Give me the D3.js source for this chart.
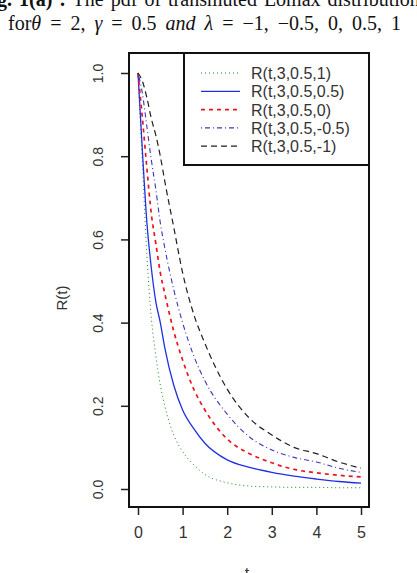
<!DOCTYPE html>
<html>
<head>
<meta charset="utf-8">
<script src="https://cdn.jsdelivr.net/npm/d3@7"></script>
<style>
  body { margin: 0; background: #fff; }
  svg { display: block; }
</style>
</head>
<body>
<div id="chart"></div>
<script>
// sample points on t
const tValues = [0, 0.1, 0.2, 0.3, 0.4, 0.5, 0.6, 0.8, 1, 1.25, 1.5, 2, 2.5, 3, 3.5, 4, 4.5, 5];

// R(t), one array per lambda
const rLambda1    = [1, 0.78, 0.56, 0.41, 0.32, 0.25, 0.20, 0.13, 0.09, 0.058, 0.035, 0.015, 0.007, 0.005, 0.004, 0.004, 0.003, 0.003];
const rLambda05   = [1, 0.81, 0.64, 0.53, 0.45, 0.40, 0.34, 0.25, 0.19, 0.145, 0.11, 0.07, 0.052, 0.04, 0.031, 0.024, 0.018, 0.014];
const rLambda0    = [1, 0.89, 0.77, 0.66, 0.59, 0.52, 0.47, 0.38, 0.31, 0.24, 0.19, 0.12, 0.085, 0.063, 0.047, 0.039, 0.033, 0.029];
const rLambdaM05  = [1, 0.95, 0.87, 0.79, 0.72, 0.64, 0.58, 0.48, 0.40, 0.32, 0.26, 0.18, 0.125, 0.094, 0.076, 0.065, 0.05, 0.04];
const rLambdaM1   = [1, 0.98, 0.94, 0.89, 0.85, 0.80, 0.74, 0.63, 0.52, 0.42, 0.35, 0.24, 0.17, 0.13, 0.10, 0.085, 0.065, 0.05];

const seriesNames = ["R(t,3,0.5,1)", "R(t,3,0.5,0.5)", "R(t,3,0.5,0)", "R(t,3,0.5,-0.5)", "R(t,3,0.5,-1)"];
const xTicks = [0, 1, 2, 3, 4, 5];
const yTicks = [0.0, 0.2, 0.4, 0.6, 0.8, 1.0];

const series = [
    {name: seriesNames[0], values: rLambda1,   color: "#1a8a1a", dash: "1,3",     width: 1},
    {name: seriesNames[1], values: rLambda05,  color: "#2030e0", dash: null,      width: 1.3},
    {name: seriesNames[2], values: rLambda0,   color: "#e8161c", dash: "4,4",     width: 1.7},
    {name: seriesNames[3], values: rLambdaM05, color: "#3838b8", dash: "1,3,5,3", width: 1.1},
    {name: seriesNames[4], values: rLambdaM1,  color: "#202020", dash: "6,4",     width: 1.2}
];

const W = 417, H = 573;
const svg = d3.select("#chart").append("svg")
    .attr("width", W)
    .attr("height", H);

const serif = "'Liberation Serif', 'DejaVu Serif', serif";

// caption lines (top one cut by the crop)
const cap0 = svg.append("text")
    .attr("x", -3).attr("y", 6)
    .style("font-family", serif)
    .style("font-size", "20px")
    .style("word-spacing", "2px")
    .attr("fill", "#111");
cap0.append("tspan").style("font-weight", "bold").text("g. 1(a) :");
cap0.append("tspan").text(" The pdf of transmuted Lomax distribution");

const cap = svg.append("text")
    .attr("x", 8).attr("y", 30)
    .style("font-family", serif)
    .style("font-size", "20px")
    .style("word-spacing", "4px")
    .attr("fill", "#111");
cap.append("tspan").text("for");
cap.append("tspan").style("font-style", "italic").text("θ");
cap.append("tspan").text(" = 2, ");
cap.append("tspan").style("font-style", "italic").text("γ");
cap.append("tspan").text(" = 0.5  ");
cap.append("tspan").style("font-style", "italic").text("and λ");
cap.append("tspan").text(" = −1, −0.5, 0, 0.5, 1");

// plot box
const box = {left: 129, right: 369, top: 53, bottom: 507};

const x = d3.scaleLinear().domain([0, 5]).range([138, 361]);
const y = d3.scaleLinear().domain([0, 1]).range([489, 73]);

const line = d3.line()
    .x((d, i) => x(tValues[i]))
    .y(d => y(d))
    .curve(d3.curveMonotoneX);

svg.append("clipPath").attr("id", "plotclip")
    .append("rect")
    .attr("x", box.left).attr("y", box.top)
    .attr("width", box.right - box.left).attr("height", box.bottom - box.top);

const plot = svg.append("g").attr("clip-path", "url(#plotclip)");

plot.selectAll("path.curve")
    .data(series)
    .enter()
    .append("path")
    .attr("class", "curve")
    .attr("d", d => line(d.values))
    .attr("fill", "none")
    .attr("stroke", d => d.color)
    .attr("stroke-width", d => d.width)
    .attr("stroke-dasharray", d => d.dash);

// axes
const sans = "'Liberation Sans', Arial, sans-serif";

const xAxis = svg.append("g")
    .attr("transform", `translate(0, ${box.bottom})`)
    .call(d3.axisBottom(x).tickValues(xTicks).tickSize(8).tickPadding(12).tickFormat(d3.format("d")));
xAxis.select(".domain").remove();
xAxis.selectAll("line").attr("stroke", "#222").attr("stroke-width", 1.5);
xAxis.selectAll("text")
    .style("font-family", sans)
    .style("font-size", "16px")
    .attr("fill", "#333");

const yAxis = svg.append("g")
    .attr("transform", `translate(${box.left}, 0)`)
    .call(d3.axisLeft(y).tickValues(yTicks).tickSize(8).tickFormat(d3.format(".1f")));
yAxis.select(".domain").remove();
yAxis.selectAll("line").attr("stroke", "#222").attr("stroke-width", 1.5);
yAxis.selectAll("text")
    .attr("x", null).attr("dy", null)
    .attr("text-anchor", "middle")
    .attr("transform", "translate(-31, 0) rotate(-90)")
    .attr("y", 5)
    .style("font-family", sans)
    .style("font-size", "14px")
    .attr("fill", "#333");

svg.append("rect")
    .attr("x", box.left).attr("y", box.top)
    .attr("width", box.right - box.left).attr("height", box.bottom - box.top)
    .attr("fill", "none")
    .attr("stroke", "#111")
    .attr("stroke-width", 2);

// axis titles
svg.append("text")
    .attr("transform", "translate(67, 298) rotate(-90)")
    .attr("text-anchor", "middle")
    .style("font-family", sans)
    .style("font-size", "15px")
    .attr("fill", "#333")
    .text("R(t)");

svg.append("text")
    .attr("x", 247).attr("y", 579)
    .attr("text-anchor", "middle")
    .style("font-family", sans)
    .style("font-size", "16px")
    .attr("fill", "#333")
    .text("t");

// legend
const legend = svg.append("g").attr("class", "legend");
legend.append("rect")
    .attr("x", 184).attr("y", box.top)
    .attr("width", box.right - 184).attr("height", 165 - box.top)
    .attr("fill", "#fff")
    .attr("stroke", "#111")
    .attr("stroke-width", 2);

const rows = legend.selectAll("g.row")
    .data(series)
    .enter()
    .append("g")
    .attr("class", "row")
    .attr("transform", (d, i) => `translate(0, ${73 + i * 18.3})`);

rows.append("line")
    .attr("x1", 201).attr("x2", 240)
    .attr("y1", 0).attr("y2", 0)
    .attr("stroke", d => d.color)
    .attr("stroke-width", d => d.width)
    .attr("stroke-dasharray", d => d.dash);

rows.append("text")
    .attr("x", 251).attr("y", 6)
    .style("font-family", sans)
    .style("font-size", "16px")
    .attr("fill", "#333")
    .text(d => d.name);
</script>
</body>
</html>
